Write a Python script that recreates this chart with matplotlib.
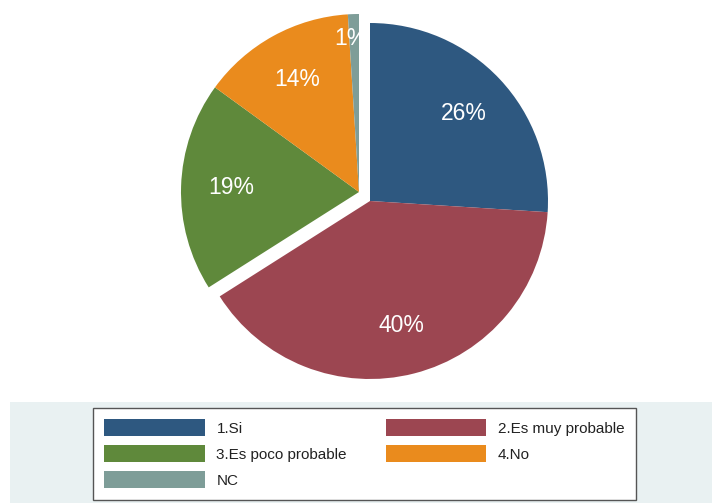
import numpy as np
import matplotlib.pyplot as plt
from matplotlib.patches import Rectangle

labels = ["1.Si", "2.Es muy probable", "3.Es poco probable", "4.No", "NC"]
shares = [26, 40, 19, 14, 1]
colors = ["#2e5880", "#9c4651", "#5f893b", "#ea8b1d", "#7e9d98"]

plt.rcParams['font.family'] = ['Liberation Sans', 'DejaVu Sans']

fig = plt.figure(figsize=(7.12, 5.03), dpi=100)
ax = fig.add_axes([0, 0, 1, 1])

# pixel-like data space so the pie sits where we want it
cx, cy, r = 370, 302, 178
wedges, texts, autos = ax.pie(
    shares, colors=colors, startangle=90, counterclock=False,
    center=(cx, cy), radius=r, autopct='%1.0f%%', pctdistance=0.72,
    textprops=dict(color='white', fontsize=16.5),
    wedgeprops=dict(linewidth=0))

# pull slices 3, 4 and NC out together as one group
dx, dy = -11, 9
for w in wedges[2:]:
    x0, y0 = w.center
    w.set_center((x0 + dx, y0 + dy))
for t in autos[2:]:
    x0, y0 = t.get_position()
    t.set_position((x0 + dx, y0 + dy))

# the tiny slice gets its label pushed further out
w = wedges[4]
mid = np.deg2rad((w.theta1 + w.theta2) / 2)
autos[4].set_position((w.center[0] + 0.86 * r * np.cos(mid) - 3,
                       w.center[1] + 0.86 * r * np.sin(mid)))

ax.set_xlim(0, 712)
ax.set_ylim(0, 503)
ax.set_aspect('equal')
ax.axis('off')

# light band behind the legend
ax.add_patch(Rectangle((10, 0), 702, 101, facecolor='#e9f1f2',
                       edgecolor='none', zorder=0))

order = [0, 2, 4, 1, 3]
leg = ax.legend([wedges[i] for i in order], [labels[i] for i in order],
                ncol=2, loc='upper left', bbox_to_anchor=(93, 95),
                bbox_transform=ax.transData, borderaxespad=0,
                fontsize=11.0, handlelength=6.55, handleheight=1.31,
                handletextpad=0.78, columnspacing=2.55, labelspacing=0.6,
                borderpad=0.75, fancybox=False, framealpha=1,
                edgecolor='#555555', facecolor='white')
leg.get_frame().set_linewidth(1.0)
for t in leg.get_texts():
    t.set_color('#222222')

fig.savefig('out.png', dpi=100)
